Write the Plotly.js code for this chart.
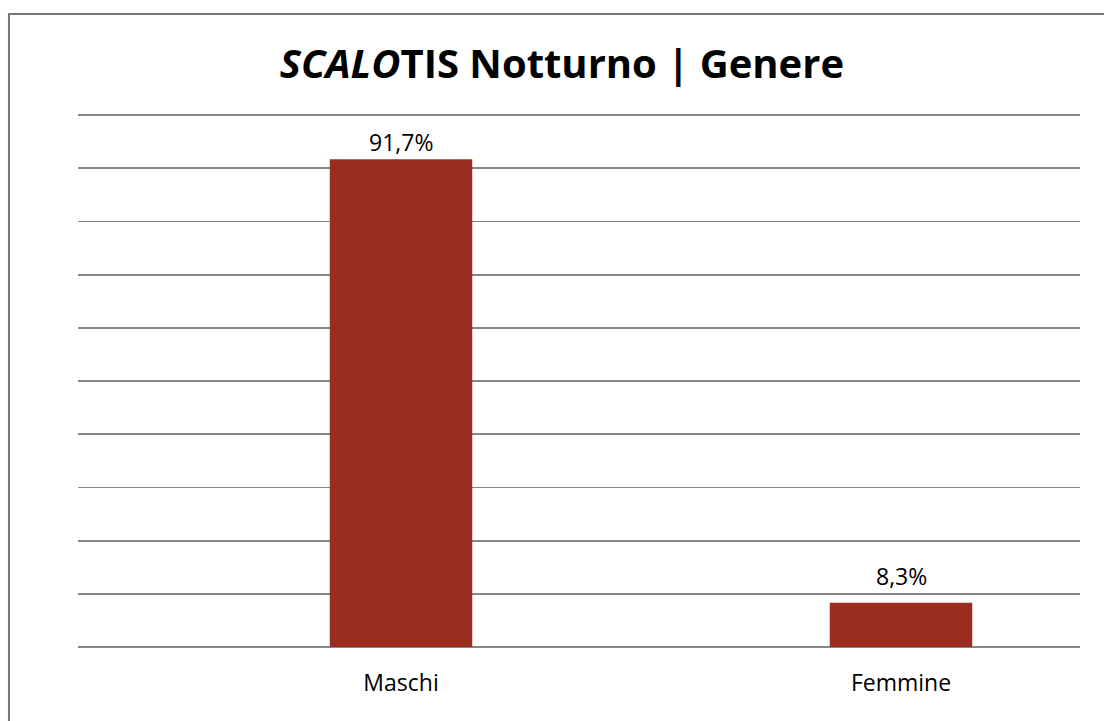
<!DOCTYPE html>
<html><head><meta charset="utf-8">
<script src="https://cdn.plot.ly/plotly-3.0.1.min.js"></script>
<style>html,body{margin:0;padding:0;background:#fff}#chart{width:1104px;height:721px}</style>
</head><body><div id="chart"></div>
<script>
const categories = ["Maschi", "Femmine"];
const values = [0.917, 0.083];
const valueLabels = ["91,7%", "8,3%"];
const titleItalic = "SCALO";
const titleRest = "TIS Notturno | Genere";
const labelOffsets = [17, 27];

const trace = {
  type: "bar",
  x: categories,
  y: values,
  width: 0.285,
  marker: {color: "#9B2D20"},
  hoverinfo: "skip"
};

const annotations = categories.map((c, i) => ({
  x: c, y: values[i], xref: "x", yref: "y",
  text: valueLabels[i], showarrow: false,
  xanchor: "center", yanchor: "middle", yshift: labelOffsets[i],
  font: {family: "Open Sans", size: 23, color: "#000"}
}));

const layout = {
  width: 1104, height: 721,
  margin: {l: 78, r: 24, t: 114, b: 74},
  paper_bgcolor: "#fff", plot_bgcolor: "#fff",
  separators: ",.",
  showlegend: false,
  font: {family: "Open Sans", color: "#000"},
  title: {
    text: "<b><i>" + titleItalic + "</i>" + titleRest + "</b>",
    font: {family: "Open Sans", size: 40, color: "#000"},
    x: 0.509, xanchor: "center", y: 0.911, yanchor: "middle"
  },
  xaxis: {
    range: [-0.646, 1.358],
    showgrid: false, showline: false, zeroline: false, ticks: "",
    tickfont: {family: "Open Sans", size: 23, color: "#000"},
    ticklabelstandoff: 20
  },
  yaxis: {
    range: [0, 1.002], dtick: 0.1, showticklabels: false, ticks: "",
    showgrid: true, gridcolor: "#868686", gridwidth: 1.8,
    zeroline: true, zerolinecolor: "#868686", zerolinewidth: 1.8,
    showline: false, fixedrange: true
  },
  annotations: annotations,
  shapes: [{
    type: "rect", xref: "paper", yref: "paper",
    x0: -0.0689, x1: 1.2, y0: -0.5, y1: 1.1876,
    line: {color: "#777777", width: 2}, fillcolor: "rgba(0,0,0,0)", layer: "below"
  }]
};

Plotly.newPlot("chart", [trace], layout, {displayModeBar: false, staticPlot: true});
</script></body></html>
